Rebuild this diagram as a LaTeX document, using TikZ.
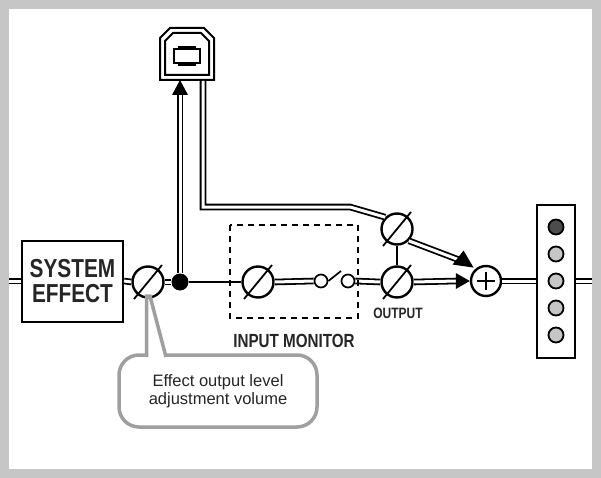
\documentclass[tikz,border=0pt]{standalone}
\usepackage{fontspec}
\usepackage{graphicx}
\setmainfont{Liberation Sans}
\usetikzlibrary{arrows.meta}
\newcommand{\cond}[1]{\scalebox{0.8}[1]{#1}}
\begin{document}
\begin{tikzpicture}[x=1pt,y=-1pt,
  sig/.style={draw=black,line width=1.8pt,double=white,double distance=3pt},
  vol/.style={circle,draw,line width=2.4pt,fill=white,minimum size=31pt,inner sep=0pt},
  led/.style={circle,draw,line width=1.8pt,fill=gray!45,minimum size=15pt,inner sep=0pt},
  lbl/.style={font=\bfseries\fontsize{19}{20}\selectfont,text=black!85}]
\useasboundingbox (0,0) rectangle (601,478);
\fill[gray!45] (0,0) rectangle (601,478);
\fill[white] (9,9) rectangle (592,469);
% nodes
\node[draw,line width=2pt,minimum width=101pt,minimum height=81pt,align=center,inner sep=0pt,
  font=\bfseries\fontsize{26}{25}\selectfont,text=black!85] (se) at (72.5,281) {\cond{SYSTEM}\\\cond{EFFECT}};
\coordinate (L) at (9,281);
\coordinate (R) at (592,281);
\node[vol] (v1) at (148,282) {};
\node[circle,fill=black,minimum size=17pt,inner sep=0pt] (dot) at (180,282) {};
\node[vol] (v2) at (258,282) {};
\node[circle,draw,line width=1.7pt,fill=white,minimum size=13pt,inner sep=0pt] (s1) at (321,281) {};
\node[circle,draw,line width=1.7pt,fill=white,minimum size=13pt,inner sep=0pt] (s2) at (348,281) {};
\node[vol] (vo) at (397,282) {};
\node[vol] (vu) at (397,229) {};
\node[circle,draw,line width=2.4pt,fill=white,minimum size=30pt,inner sep=0pt] (plus) at (486,281) {};
\node[draw,line width=2pt,fill=white,minimum width=38pt,minimum height=153pt] (ledbox) at (556,281) {};
% USB
\draw[line width=2pt,fill=white] (160,80) -- (160,38) -- (170,28) -- (204,28) -- (214,38) -- (214,80) -- cycle;
\draw[line width=2pt] (165,75) -- (165,41) -- (173,33) -- (201,33) -- (209,41) -- (209,75) -- cycle;
\draw[line width=2.4pt] (174,49) rectangle (200,63);
\fill (178,46) rectangle (196,49);
\fill (178,63) rectangle (196,66);
% signal lines
\draw[sig] (L) -- (se.west);
\draw[sig] (se.east) -- (v1.west);
\draw[sig] (v1.east) -- (dot);
\draw[line width=2pt] (dot) -- (v2.west);
\draw[sig] (v2.east) -- (s1.west);
\draw[line width=1.7pt] (s1.east) -- (341,271);
\draw[sig] (s2.east) -- (vo.west);
\draw[line width=2pt] (vo.north) -- (vu.south);
\draw[sig] (vo.east) -- (457,281);
\fill (plus.west) -- ++(-14,-8) -- ++(0,16) -- cycle;
\draw[sig] (plus.east) -- (ledbox.west);
\draw[sig] (ledbox.east) -- (R);
\draw[sig] (dot.north) -- (180,93);
\fill (180,80) -- (172,95) -- (188,95) -- cycle;
\draw[sig] (203,81) -- (203,207) -- (350,207) -- (vu.north west);
\draw[sig] (vu.south east) -- (462,261);
\fill (plus.north west) ++(-1,-2) -- ++(-21,-3) -- ++(11,-14) -- cycle;
% knob slashes
\foreach \n in {v1,v2,vo,vu} \draw[line width=1.8pt] (\n.center) ++(-14,17) -- ++(28,-34);
\draw[line width=1.6pt] (plus.center) ++(-9,0) -- ++(18,0) (plus.center) ++(0,-9) -- ++(0,18);
% leds
\node[led,fill=black!70] (l1) at (556,227) {};
\node[led] (l2) at (556,254) {};
\node[led] (l3) at (556,281) {};
\node[led] (l4) at (556,308) {};
\node[led] (l5) at (556,335) {};
% dashed box
\draw[dash pattern=on 6pt off 5pt,line width=1.1pt] (230,225) rectangle (358,318);
\node[lbl] (im) at (294,341) {\cond{INPUT MONITOR}};
\node[lbl,font=\bfseries\fontsize{15}{15}\selectfont] (op) at (398,313) {\cond{OUTPUT}};
% callout
\node[draw=gray!75,line width=3.5pt,rounded corners=20pt,minimum width=198pt,minimum height=72pt,
  align=center,font=\fontsize{16.5}{18}\selectfont,text=black!85] (co) at (218,391) {Effect output level\\adjustment volume};
\fill[white] (146.5,353) -- (146.5,358) -- (166,358) -- (166,353) -- cycle;
\draw[gray!75,line width=3.5pt] (146.5,357) -- (146.5,296) -- (150,296) -- (166,357);
\end{tikzpicture}
\end{document}
